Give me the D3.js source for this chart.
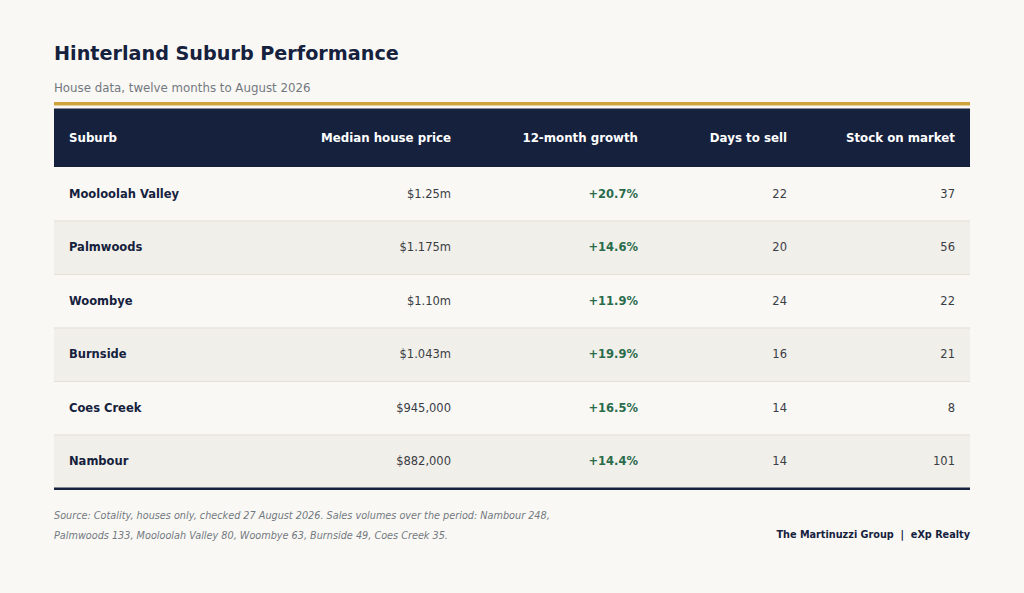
<!DOCTYPE html>
<html>
<head>
<meta charset="utf-8">
<script src="https://cdn.jsdelivr.net/npm/d3@7"></script>
<style>
  html, body { margin: 0; padding: 0; background: #f9f8f5; }
  svg { display: block; font-family: "DejaVu Sans", sans-serif; }
</style>
</head>
<body>
<div id="chart"></div>
<script>
// Table data
var columns = ["Suburb", "Median house price", "12-month growth", "Days to sell", "Stock on market"];
var suburbs = ["Mooloolah Valley", "Palmwoods", "Woombye", "Burnside", "Coes Creek", "Nambour"];
var medianPrice = ["$1.25m", "$1.175m", "$1.10m", "$1.043m", "$945,000", "$882,000"];
var growth = [20.7, 14.6, 11.9, 19.9, 16.5, 14.4];
var daysToSell = [22, 20, 24, 16, 14, 14];
var stock = [37, 56, 22, 21, 8, 101];

function drawTable() {
    var width = 1024, height = 593;
    var left = 54, right = 970;
    var navy = "#15213d";

    var svg = d3.select("#chart")
        .append("svg")
        .attr("width", width)
        .attr("height", height);

    svg.append("rect").attr("width", width).attr("height", height).attr("fill", "#f9f8f5");

    // Title and subtitle
    svg.append("text")
        .attr("x", left).attr("y", 60)
        .attr("font-size", 19.2).attr("font-weight", "bold")
        .attr("fill", navy)
        .text("Hinterland Suburb Performance");

    svg.append("text")
        .attr("x", left).attr("y", 92)
        .attr("font-size", 11.8)
        .attr("fill", "#737880")
        .text("House data, twelve months to August 2026");

    // gold rule
    svg.append("rect")
        .attr("x", left).attr("y", 102)
        .attr("width", right - left).attr("height", 3.5)
        .attr("fill", "#cfa43a");

    // header band
    var headerTop = 108.5, headerBottom = 167;
    svg.append("rect")
        .attr("x", left).attr("y", headerTop)
        .attr("width", right - left).attr("height", headerBottom - headerTop)
        .attr("fill", navy);

    // column anchors: first is left aligned, others right aligned
    var colX = [69, 451, 638, 787, 955];

    svg.append("g").selectAll("text")
        .data(columns)
        .enter()
        .append("text")
        .attr("x", function (d, i) { return colX[i]; })
        .attr("y", (headerTop + headerBottom) / 2)
        .attr("dy", "0.35em")
        .attr("text-anchor", function (d, i) { return i === 0 ? "start" : "end"; })
        .attr("font-size", 11.8).attr("font-weight", "bold")
        .attr("fill", "#ffffff")
        .text(function (d) { return d; });

    // rows
    var yRow = d3.scaleBand()
        .domain(suburbs)
        .range([headerBottom, 488]);

    var rows = svg.append("g").selectAll("g")
        .data(suburbs)
        .enter()
        .append("g")
        .attr("transform", function (d) { return "translate(0," + yRow(d) + ")"; });

    rows.append("rect")
        .attr("x", left)
        .attr("width", right - left)
        .attr("height", yRow.bandwidth())
        .attr("fill", function (d, i) { return i % 2 === 1 ? "#f1efe9" : "#f9f8f5"; });

    rows.filter(function (d, i) { return i > 0; })
        .append("line")
        .attr("x1", left).attr("x2", right)
        .attr("y1", 0.5).attr("y2", 0.5)
        .attr("stroke", "#e3e0d8").attr("stroke-width", 1);

    var mid = yRow.bandwidth() / 2;

    rows.append("text")
        .attr("x", colX[0]).attr("y", mid).attr("dy", "0.35em")
        .attr("font-size", 11.5).attr("font-weight", "bold")
        .attr("fill", navy)
        .text(function (d) { return d; });

    rows.append("text")
        .attr("x", colX[1]).attr("y", mid).attr("dy", "0.35em")
        .attr("text-anchor", "end")
        .attr("font-size", 11.5).attr("fill", "#3a3d44")
        .text(function (d, i) { return medianPrice[i]; });

    rows.append("text")
        .attr("x", colX[2]).attr("y", mid).attr("dy", "0.35em")
        .attr("text-anchor", "end")
        .attr("font-size", 11.5).attr("font-weight", "bold")
        .attr("fill", "#2a6b4c")
        .text(function (d, i) { return "+" + growth[i].toFixed(1) + "%"; });

    rows.append("text")
        .attr("x", colX[3]).attr("y", mid).attr("dy", "0.35em")
        .attr("text-anchor", "end")
        .attr("font-size", 11.5).attr("fill", "#3a3d44")
        .text(function (d, i) { return daysToSell[i]; });

    rows.append("text")
        .attr("x", colX[4]).attr("y", mid).attr("dy", "0.35em")
        .attr("text-anchor", "end")
        .attr("font-size", 11.5).attr("fill", "#3a3d44")
        .text(function (d, i) { return stock[i]; });

    // bottom rule
    svg.append("rect")
        .attr("x", left).attr("y", 487.5)
        .attr("width", right - left).attr("height", 2.5)
        .attr("fill", navy);

    // footer
    var note = svg.append("text")
        .attr("font-size", 9.7).attr("font-style", "italic")
        .attr("fill", "#737880");
    note.append("tspan").attr("x", left).attr("y", 519)
        .text("Source: Cotality, houses only, checked 27 August 2026. Sales volumes over the period: Nambour 248,");
    note.append("tspan").attr("x", left).attr("y", 538.5)
        .text("Palmwoods 133, Mooloolah Valley 80, Woombye 63, Burnside 49, Coes Creek 35.");

    svg.append("text")
        .attr("x", right).attr("y", 538)
        .attr("text-anchor", "end")
        .attr("font-size", 9.7).attr("font-weight", "bold")
        .attr("fill", navy)
        .attr("xml:space", "preserve")
        .text("The Martinuzzi Group  |  eXp Realty");
}

drawTable();
</script>
</body>
</html>
